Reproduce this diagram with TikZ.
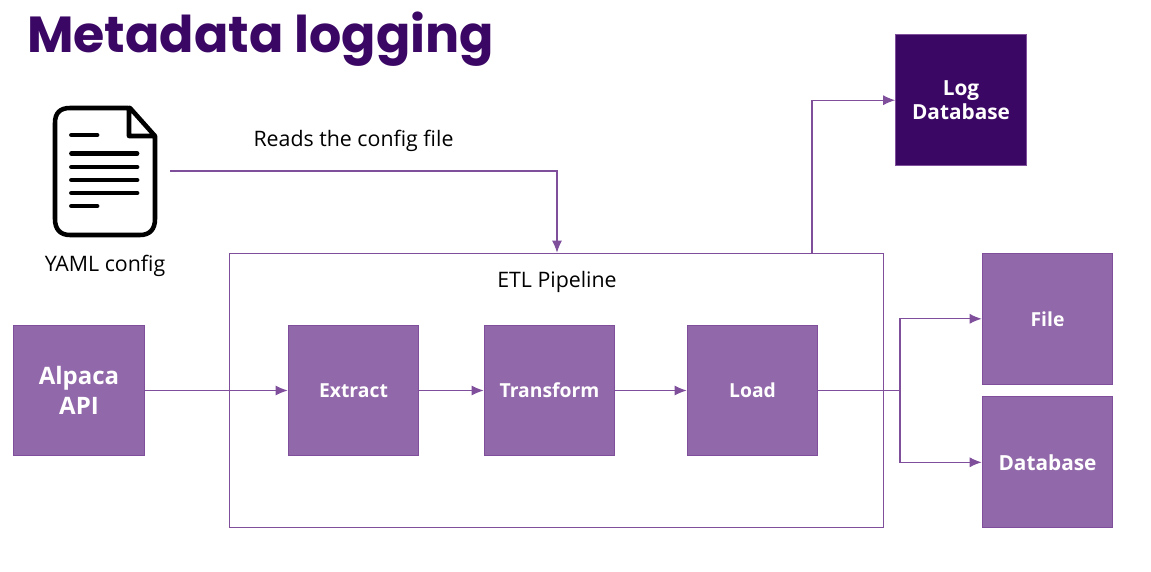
\documentclass[tikz,border=0pt]{standalone}
\usepackage{fontspec}
\setmainfont{Open Sans}
\newfontfamily\titlefont{Poppins}
\usetikzlibrary{arrows.meta,calc}
\definecolor{deep}{HTML}{3B0764}
\definecolor{mid}{HTML}{9168A9}
\definecolor{edge}{HTML}{7F4F9C}
\tikzset{
  box/.style={draw=edge,fill=mid,line width=0.75pt,minimum width=98pt,minimum height=98pt,inner sep=2pt,align=center,text=white,font=\bfseries\fontsize{14.5}{18}\selectfont},
  widebox/.style={box,font=\bfseries\fontsize{15.6}{18}\selectfont},
  link/.style={draw=edge,line width=0.8pt,-{Latex[length=9pt,width=7.5pt]}},
  plain/.style={draw=edge,line width=0.8pt},
  lab/.style={font=\fontsize{16}{18}\selectfont,text=black,inner sep=0pt},
  ink/.style={draw=black,line width=3.4pt,line cap=round,line join=round},
  bar/.style={draw=black,line width=3.6pt,line cap=round}
}
\begin{document}
\begin{tikzpicture}[x=0.75pt,y=-0.75pt]
\useasboundingbox (0,0) rectangle (1151,571);
\node[anchor=west,inner sep=0pt,text=deep] (title) at (27,39) {\titlefont\bfseries\fontsize{38}{44}\selectfont Metadata logging};
% document icon
\draw[ink] (128,108) -- (70,108) .. controls (60,108) and (55,113) .. (55,123) -- (55,219) .. controls (55,229) and (60,235) .. (70,235) -- (140,235) .. controls (150,235) and (155,229) .. (155,219) -- (155,136) -- (130,108) -- (129,108) -- (129,136) -- (155,136);
\foreach \yy/\xx in {135/97,153.5/137,167/137,180/137,193/137,206/97}{
  \draw[bar] (71.5,\yy) -- (\xx,\yy);
}
\node[lab] (yaml) at (105,266) {YAML config};
\node[lab] (reads) at (353.5,141) {Reads the config file};
\coordinate (iconout) at (170,171);
% pipeline
\node[draw=edge,line width=0.8pt,minimum width=490.5pt,minimum height=205.5pt,inner sep=0pt] (etl) at (556.5,390.2) {};
\node[lab] (etllab) at (557,282) {ETL Pipeline};
\node[box,font=\bfseries\fontsize{18}{22.5}\selectfont] (api) at (79,390.5) {Alpaca\\API};
\node[box] (extract) at (353.5,390.5) {Extract};
\node[box] (transform) at (549.5,390.5) {Transform};
\node[box] (load) at (752.5,390.5) {Load};
\node[box] (file) at (1047.5,318.8) {File};
\node[widebox] (database) at (1047.5,462.3) {Database};
\node[widebox,fill=deep] (logdb) at (961,100.2) {Log\\Database};
% connectors
\draw[link] (iconout) -| (etl.north -| 557,0);
\draw[link] (api) -- (extract);
\draw[link] (extract) -- (transform);
\draw[link] (transform) -- (load);
\coordinate (split) at (900,390.5);
\draw[plain] (load.east) -- (split);
\draw[link] (split) |- (file.west);
\draw[link] (split) |- (database.west);
\coordinate (etlup) at (812,253);
\draw[link] (etlup) |- (logdb.west);
\end{tikzpicture}
\end{document}
